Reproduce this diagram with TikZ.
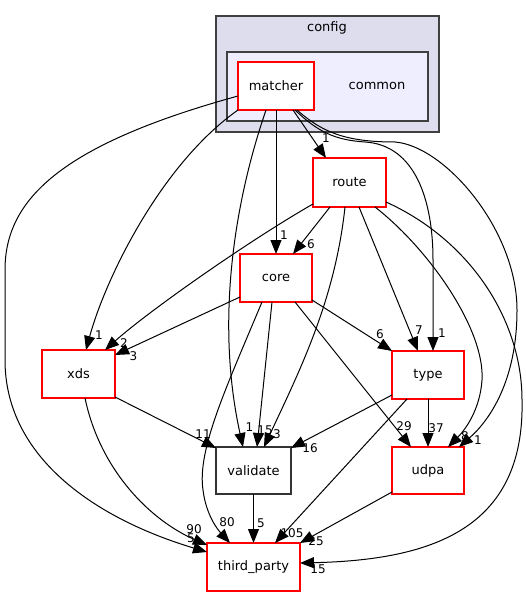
\documentclass[tikz,border=0pt]{standalone}
\usepackage{fontspec}
\setmainfont{DejaVu Sans}
\usetikzlibrary{arrows.meta,calc}
\definecolor{clusterA}{HTML}{DDDDEE}
\definecolor{clusterB}{HTML}{EEEEFF}
\definecolor{clusterline}{HTML}{404040}
\begin{document}
\begin{tikzpicture}[x=1pt,y=-1pt,
  cluster/.style={draw=clusterline, line width=1.3pt, inner sep=0pt},
  dirbox/.style={draw=red, line width=1.3pt, fill=white, inner sep=0pt, font=\fontsize{13}{15}\selectfont},
  plainbox/.style={draw=black!80, line width=1.3pt, fill=white, inner sep=0pt, font=\fontsize{13}{15}\selectfont},
  ctext/.style={inner sep=0pt, font=\fontsize{13}{15}\selectfont},
  elabel/.style={inner sep=0pt, font=\fontsize{12}{14}\selectfont},
  depedge/.style={draw=black, line width=1pt, -{Triangle[length=14pt,width=11pt]}}]
\useasboundingbox (0,0) rectangle (526,596);
% clusters
\node[cluster, fill=clusterA, minimum width=223pt, minimum height=116pt] (config) at (327.5,74) {};
\node[ctext] (configlabel) at (327,27.5) {config};
\node[cluster, fill=clusterB, minimum width=201pt, minimum height=69pt] (common) at (327.5,86.5) {};
\node[ctext] (commonlabel) at (377,86) {common};
% directory nodes
\node[dirbox, minimum width=76pt, minimum height=48pt] (matcher) at (276,86) {matcher};
\node[dirbox, minimum width=73pt, minimum height=49pt] (route) at (349.5,182.5) {route};
\node[dirbox, minimum width=72pt, minimum height=48pt] (core) at (276,278) {core};
\node[dirbox, minimum width=73pt, minimum height=48pt] (xds) at (78.5,374) {xds};
\node[dirbox, minimum width=72pt, minimum height=48pt] (type) at (428,375) {type};
\node[plainbox, minimum width=75pt, minimum height=47pt] (validate) at (253.5,470.5) {validate};
\node[dirbox, minimum width=72pt, minimum height=47pt] (udpa) at (428,470.5) {udpa};
\node[dirbox, minimum width=93pt, minimum height=48pt] (third) at (253.5,567) {third\_party};
% edge labels
\node[elabel] (l1) at (99,335) {1};
\node[elabel] (l2) at (124,343) {2};
\node[elabel] (l3) at (133.5,356) {3};
\node[elabel] (l4) at (284,235) {1};
\node[elabel] (l5) at (311,244) {6};
\node[elabel] (l6) at (380,334) {6};
\node[elabel] (l7) at (419,330) {7};
\node[elabel] (l8) at (442,333.5) {1};
\node[elabel] (l9) at (326,138) {1};
\node[elabel] (l10) at (404,426) {29};
\node[elabel] (l11) at (436,428) {37};
\node[elabel] (l12) at (465,436) {8};
\node[elabel] (l13) at (478,440) {1};
\node[elabel] (l14) at (203,434) {11};
\node[elabel] (l15) at (249.5,427) {1};
\node[elabel] (l16) at (265,430) {15};
\node[elabel] (l17) at (277,434) {3};
\node[elabel] (l18) at (310,448) {16};
\node[elabel] (l19) at (194,529) {90};
\node[elabel] (l20) at (191,538) {5};
\node[elabel] (l21) at (227,522) {80};
\node[elabel] (l22) at (261,523) {5};
\node[elabel] (l23) at (292,533) {105};
\node[elabel] (l24) at (316,541) {25};
\node[elabel] (l25) at (318,569) {15};
% edges from matcher
\draw[depedge] ($(matcher)+(-38,10)$) .. controls (60,145) and (5,200) .. (5,270) -- (5,360) .. controls (5,460) and (100,520) .. ($(third)+(-46.5,-15)$);
\draw[depedge] ($(matcher)+(-38,24)$) .. controls (160,165) and (105,280) .. ($(xds)+(7.5,-24)$);
\draw[depedge] ($(matcher)+(-10,24)$) .. controls (235,200) and (215,320) .. ($(validate)+(-10.5,-23.5)$);
\draw[depedge] ($(matcher)+(0,24)$) -- ($(core)+(0,-24)$);
\draw[depedge] ($(matcher)+(17,24)$) -- ($(route)+(-23.5,-24.5)$);
\draw[depedge] ($(matcher)+(19,24)$) .. controls (318,132) and (335,140) .. (365,142) .. controls (415,145) and (433,200) .. (433,260) -- ($(type)+(5,-24)$);
\draw[depedge] ($(matcher)+(21,24)$) .. controls (322,132) and (345,142) .. (395,142) .. controls (445,146) and (517,230) .. (517,310) .. controls (517,380) and (490,420) .. ($(udpa)+(31,-23.5)$);
% edges from route
\draw[depedge] ($(route)+(-36.5,21.5)$) .. controls (250,240) and (150,310) .. ($(xds)+(26.5,-24)$);
\draw[depedge] ($(route)+(-19.5,24.5)$) -- ($(core)+(17,-24)$);
\draw[depedge] ($(route)+(-4.5,24.5)$) .. controls (335,300) and (300,370) .. ($(validate)+(10.5,-23.5)$);
\draw[depedge] ($(route)+(9.5,24.5)$) -- ($(type)+(-10,-24)$);
\draw[depedge] ($(route)+(25.5,24.5)$) .. controls (430,250) and (485,330) .. (482,380) .. controls (480,410) and (465,430) .. ($(udpa)+(20,-23.5)$);
\draw[depedge] ($(route)+(36.5,19.5)$) .. controls (470,240) and (522,320) .. (522,400) .. controls (525,530) and (430,560) .. ($(third)+(46.5,-4)$);
% edges from core
\draw[depedge] ($(core)+(-36,19)$) -- ($(xds)+(36.5,-19)$);
\draw[depedge] ($(core)+(-4,24)$) -- ($(validate)+(3.5,-23.5)$);
\draw[depedge] ($(core)+(-14,24)$) .. controls (226,388) and (197,450) .. (203,490) .. controls (206,515) and (218,530) .. ($(third)+(-23.5,-24)$);
\draw[depedge] ($(core)+(36,22)$) -- ($(type)+(-36,-24)$);
\draw[depedge] ($(core)+(19,24)$) -- ($(udpa)+(-17,-23.5)$);
% edges from xds
\draw[depedge] ($(xds)+(36.5,23)$) -- ($(validate)+(-37.5,-22.5)$);
\draw[depedge] ($(xds)+(6.5,24)$) .. controls (100,470) and (150,520) .. ($(third)+(-46.5,-22)$);
% edges from type
\draw[depedge] ($(type)+(-36,20)$) -- ($(validate)+(37.5,-22.5)$);
\draw[depedge] ($(type)+(-21,24)$) -- ($(third)+(21.5,-24)$);
\draw[depedge] ($(type)+(0,24)$) -- ($(udpa)+(0,-23.5)$);
% edges from validate and udpa
\draw[depedge] ($(validate)+(0,23.5)$) -- ($(third)+(0,-24)$);
\draw[depedge] ($(udpa)+(-36,21.5)$) -- ($(third)+(46.5,-24)$);
\end{tikzpicture}
\end{document}
